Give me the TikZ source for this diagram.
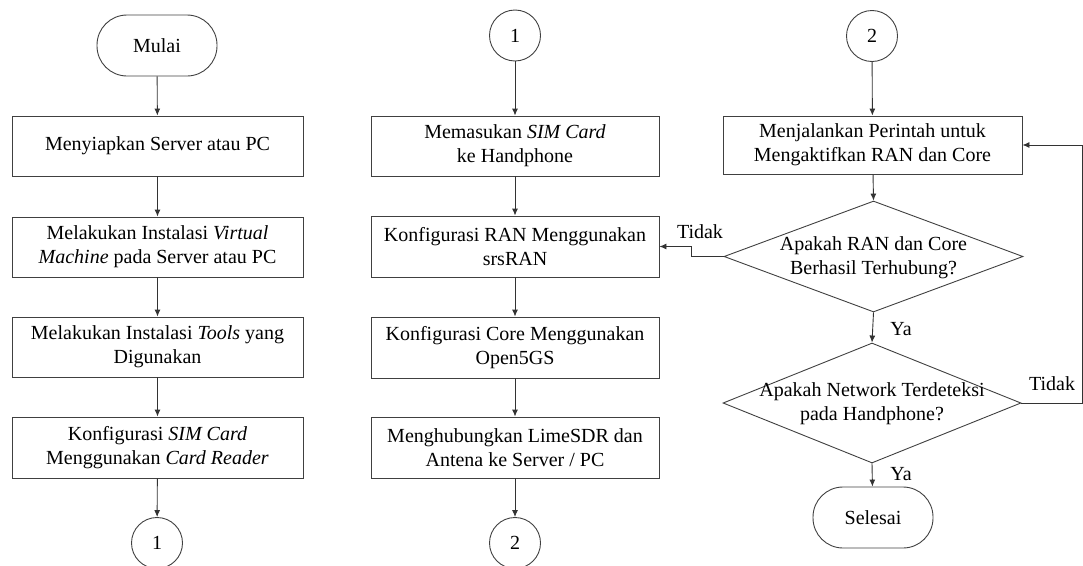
\documentclass[tikz,border=0pt]{standalone}
\usepackage{fontspec}
\setmainfont{Liberation Serif}
\usetikzlibrary{shapes.geometric,arrows.meta}
\begin{document}
\begin{tikzpicture}[x=1pt,y=-1pt,
  line width=0.9pt,
  every node/.style={font=\fontsize{20}{24}\selectfont, text=black},
  proc/.style={draw=black!75, rectangle, minimum height=60pt, inner sep=0pt, align=center},
  term/.style={draw=black!75, rectangle, rounded corners=30pt, minimum width=120pt, minimum height=61pt, inner sep=0pt},
  conn/.style={draw=black!75, circle, minimum size=51pt, inner sep=0pt},
  dec/.style={draw=black!75, diamond, inner sep=0pt},
  arr/.style={draw=black!80, -{Latex[length=7pt,width=6pt]}},
  lbl/.style={inner sep=0pt, align=center}
]
\useasboundingbox (0,0) rectangle (1083,565);

% column 1
\node[term] (start) at (157,45.5) {Mulai};
\node[proc, minimum width=291pt] (a1) at (157.5,146) {Menyiapkan Server atau PC};
\node[proc, minimum width=291pt] (a2) at (157.5,247) {Melakukan Instalasi \textit{Virtual}\\\textit{Machine} pada Server atau PC};
\node[proc, minimum width=291pt] (a3) at (157.5,347) {Melakukan Instalasi \textit{Tools} yang\\Digunakan};
\node[proc, minimum width=291pt, minimum height=61pt] (a4) at (157.5,447.5) {Konfigurasi \textit{SIM Card}\\Menggunakan \textit{Card Reader}};
\node[conn] (c1a) at (157,543) {1};

% column 2
\node[conn] (c1b) at (515,35.5) {1};
\node[proc, minimum width=288pt] (b1) at (515,146) {Memasukan \textit{SIM Card}\\ke Handphone};
\node[proc, minimum width=288pt, minimum height=61pt] (b2) at (515,246.5) {Konfigurasi RAN Menggunakan\\srsRAN};
\node[proc, minimum width=288pt, minimum height=61pt] (b3) at (515,347.5) {Konfigurasi Core Menggunakan\\Open5GS};
\node[proc, minimum width=288pt, minimum height=61pt] (b4) at (515,447.5) {Menghubungkan LimeSDR dan\\Antena ke Server / PC};
\node[conn] (c2a) at (515,543) {2};

% column 3
\node[conn] (c2b) at (872,36) {2};
\node[proc, minimum width=299pt, minimum height=58pt] (d0) at (872.5,145) {Menjalankan Perintah untuk\\Mengaktifkan RAN dan Core};
\node[dec, minimum width=299pt, minimum height=111pt] (d1) at (873.5,256.5) {};
\node[lbl] (d1t) at (873.5,258) {Apakah RAN dan Core\\Berhasil Terhubung?};
\node[dec, minimum width=298pt, minimum height=120pt] (d2) at (872,403) {};
\node[lbl] (d2t) at (872,404) {Apakah Network Terdeteksi\\pada Handphone?};
\node[term] (end) at (873,517.5) {Selesai};

% connectors
\draw[arr] (start) -- (a1);
\draw[arr] (a1) -- (a2);
\draw[arr] (a2) -- (a3);
\draw[arr] (a3) -- (a4);
\draw[arr] (a4) -- (c1a);
\draw[arr] (c1b) -- (b1);
\draw[arr] (b1) -- (b2);
\draw[arr] (b2) -- (b3);
\draw[arr] (b3) -- (b4);
\draw[arr] (b4) -- (c2a);
\draw[arr] (c2b) -- (d0);
\draw[arr] (d0) -- (d1.north);
\draw[arr] (d1.south) -- (d2.north);
\draw[arr] (d2.south) -- (end);

\coordinate (jl) at (691,256.5);
\draw[arr] (d1.west) -- (jl) |- (b2.east);
\coordinate (jr) at (1082,403);
\draw[arr] (d2.east) -- (jr) |- (d0.east);

% labels
\node[lbl] (t1) at (700,232) {Tidak};
\node[lbl] (t2) at (1052,384) {Tidak};
\node[lbl] (y1) at (901,329) {Ya};
\node[lbl] (y2) at (901,474) {Ya};
\end{tikzpicture}
\end{document}
